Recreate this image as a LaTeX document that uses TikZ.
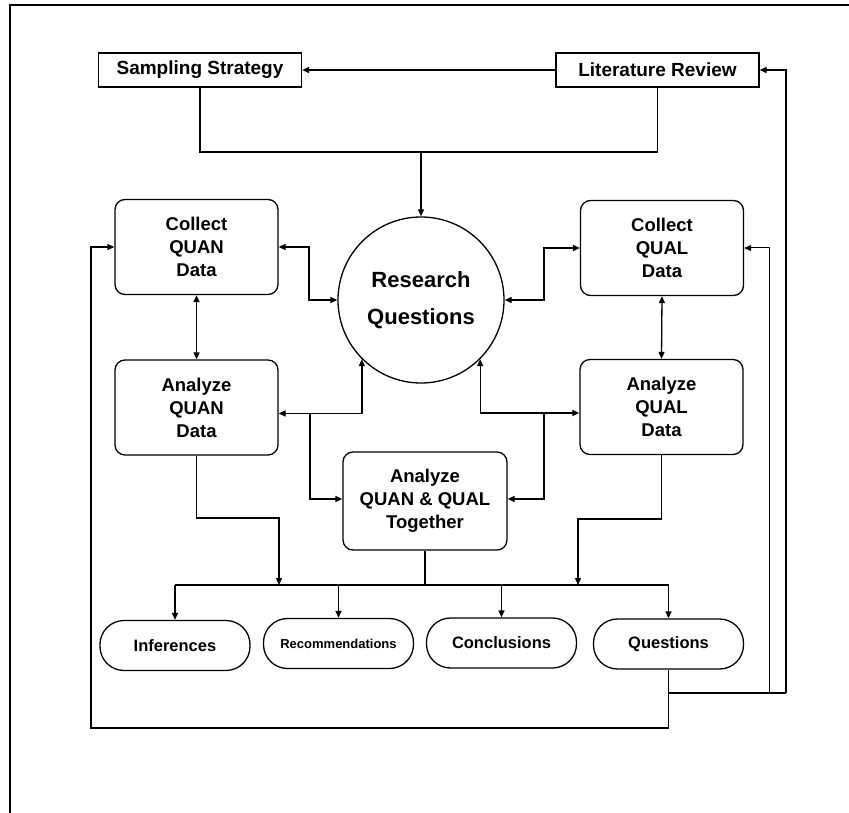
\documentclass[tikz,border=0pt]{standalone}
\usepackage{fontspec}
\setmainfont{Liberation Sans}
\usetikzlibrary{arrows.meta}
\begin{document}
\begin{tikzpicture}[x=1pt,y=-1pt,
  line width=1.3pt,
  tip/.tip={Triangle[length=7pt,width=6pt]},
  arr/.style={-tip},
  both/.style={tip-tip},
  topbox/.style={draw,rectangle,minimum width=203pt,minimum height=34pt,inner sep=0pt,
    font=\fontsize{19}{23}\selectfont\bfseries},
  stepbox/.style={draw,rectangle,rounded corners=10pt,minimum width=163pt,minimum height=95pt,
    inner sep=0pt,align=center,font=\fontsize{18.5}{23}\selectfont\bfseries},
  outcome/.style={draw,rectangle,rounded corners=24pt,minimum width=150pt,minimum height=50pt,
    inner sep=0pt,font=\fontsize{16.5}{20}\selectfont\bfseries},
  hub/.style={draw,circle,minimum size=166pt,inner sep=0pt,align=center,
    font=\fontsize{22}{37}\selectfont\bfseries}]
\useasboundingbox (0,0) rectangle (849,813);

% page frame
\draw[line width=1.8pt] (10,813) -- (10,5) -- (849,5);

% nodes
\node[topbox] (samp) at (200,70) {Sampling Strategy};
\node[topbox] (lit) at (657.5,70) {Literature Review};
\node[hub] (rq) at (421,300) {Research\\Questions};
\node[stepbox] (cquan) at (196.5,247) {Collect\\QUAN\\Data};
\node[stepbox] (aquan) at (196.5,407.5) {Analyze\\QUAN\\Data};
\node[stepbox] (cqual) at (662,248) {Collect\\QUAL\\Data};
\node[stepbox] (aqual) at (661.5,407) {Analyze\\QUAL\\Data};
\node[stepbox,minimum width=164pt,minimum height=98pt] (tog) at (425,501) {Analyze\\QUAN \& QUAL\\Together};
\node[outcome] (inf) at (175,645.5) {Inferences};
\node[outcome,font=\fontsize{13}{16}\selectfont\bfseries] (rec) at (338.5,643.5) {Recommendations};
\node[outcome] (con) at (501.5,643) {Conclusions};
\node[outcome] (ques) at (668.5,644) {Questions};

% junction points
\coordinate (topbar) at (421,152);
\coordinate (busL) at (175,585);
\coordinate (busR) at (668.5,585);
\coordinate (jL) at (279,518);
\coordinate (jR) at (578,519);
\coordinate (fb) at (668.5,693);
\coordinate (fbq) at (769,693);
\coordinate (fbl) at (786,693);

% literature review and sampling feed the research questions
\draw[arr] (lit.west) -- (samp.east);
\draw (samp.south) |- (topbar) -| (lit.south);
\draw[arr] (topbar) -- (rq.north);

% collection and analysis links
\draw[both] (cquan.east) -- (309,247) |- (rq.west);
\draw[both] (cqual.west) -- (544,248) |- (rq.east);
\draw[both] (cquan.south) -- (aquan.north);
\draw[both] (cqual.south) -- (aqual.north);
\draw[both] ([yshift=-6pt]aquan.east) -| (rq.south west);
\draw[both] ([yshift=-6pt]aqual.west) -| (rq.south east);
\draw[arr] (310,413.5) |- ([yshift=2pt]tog.west);
\draw[arr] (544,413) |- ([yshift=2pt]tog.east);

% outcomes bus
\draw (busL) -- (busR);
\draw (tog.south) -- (tog.south |- busL);
\draw[arr] (aquan.south) |- (jL) -- (jL |- busL);
\draw[arr] (aqual.south) |- (jR) -- (jR |- busL);
\draw[arr] (busL) -- (inf.north);
\draw[arr] (rec.north |- busL) -- (rec.north);
\draw[arr] (con.north |- busL) -- (con.north);
\draw[arr] (busR) -- (ques.north);

% feedback loops from questions
\draw[arr] (ques.south) |- (91,728) |- (cquan.west);
\draw (fb) -- (fbl);
\draw[arr] (fbl) |- (lit.east);
\draw[arr,line width=1pt] (fbq) |- (cqual.east);
\end{tikzpicture}
\end{document}
